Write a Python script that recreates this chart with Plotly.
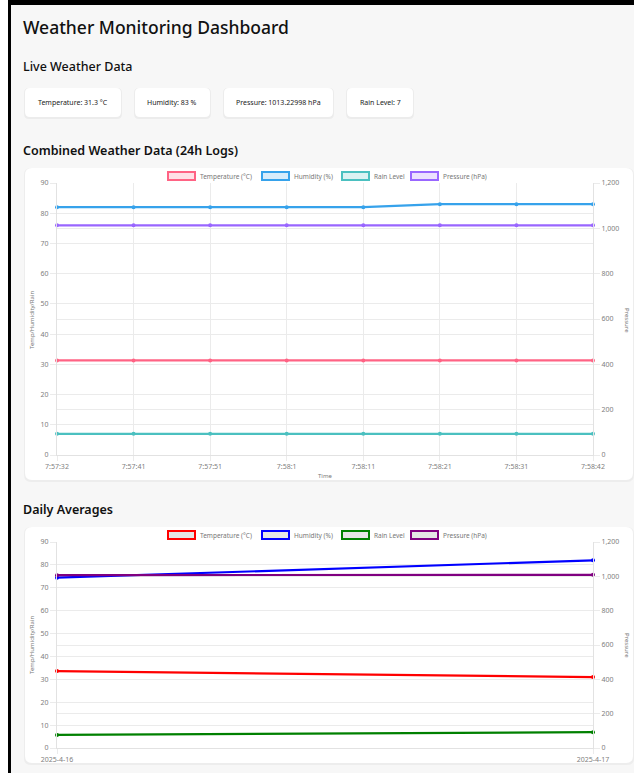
import plotly.graph_objects as go

# ---------------- data ----------------
log_times = ["7:57:32", "7:57:41", "7:57:51", "7:58:1", "7:58:11", "7:58:21", "7:58:31", "7:58:42"]
log_temperature = [31.3, 31.3, 31.3, 31.3, 31.3, 31.3, 31.3, 31.3]
log_humidity = [82, 82, 82, 82, 82, 83, 83, 83]
log_rain = [7, 7, 7, 7, 7, 7, 7, 7]
log_pressure = [1013.23, 1013.23, 1013.23, 1013.23, 1013.23, 1013.23, 1013.23, 1013.23]

avg_days = ["2025-4-16", "2025-4-17"]
avg_temperature = [33.6, 31.0]
avg_humidity = [74.4, 82.0]
avg_rain = [5.7, 6.9]
avg_pressure = [1007, 1009]

live_labels = ["Temperature: 31.3 °C", "Humidity: 83 %", "Pressure: 1013.22998 hPa", "Rain Level: 7"]
series_names = ["Temperature (°C)", "Humidity (%)", "Rain Level", "Pressure (hPa)"]

# ---------------- layout helpers ----------------
W, H = 634, 773
def fx(p):
    return p / W
def fy(p):
    return 1 - p / H

def rrect(x0, y0, x1, y1, r):
    rx, ry = r / W, r / H
    X0, X1 = fx(x0), fx(x1)
    Y0, Y1 = fy(y0), fy(y1)  # Y0 top (larger), Y1 bottom
    return (f"M{X0+rx},{Y0} L{X1-rx},{Y0} Q{X1},{Y0} {X1},{Y0-ry} "
            f"L{X1},{Y1+ry} Q{X1},{Y1} {X1-rx},{Y1} L{X0+rx},{Y1} "
            f"Q{X0},{Y1} {X0},{Y1+ry} L{X0},{Y0-ry} Q{X0},{Y0} {X0+rx},{Y0} Z")

FONT = "Noto Sans"
TICKC = "#808080"
GRID = "#ebebeb"

colors1 = ["rgb(255,99,132)", "rgb(54,162,235)", "rgb(75,192,192)", "rgb(153,102,255)"]
fills1 = ["rgba(255,99,132,0.2)", "rgba(54,162,235,0.2)", "rgba(75,192,192,0.2)", "rgba(153,102,255,0.2)"]
colors2 = ["red", "blue", "green", "purple"]
fills2 = ["rgba(0,0,0,0.1)"] * 4

fig = go.Figure()

# chart 1 traces
for vals, ax_y, c in [(log_temperature, "y", colors1[0]), (log_humidity, "y", colors1[1]),
                      (log_rain, "y", colors1[2]), (log_pressure, "y2", colors1[3])]:
    fig.add_trace(go.Scatter(x=log_times, y=vals, xaxis="x", yaxis=ax_y, mode="lines+markers",
                             line=dict(color=c, width=2.2),
                             marker=dict(color=c, size=4), cliponaxis=False, showlegend=False))
# chart 2 traces
for vals, ax_y, c in [(avg_temperature, "y3", colors2[0]), (avg_humidity, "y3", colors2[1]),
                      (avg_rain, "y3", colors2[2]), (avg_pressure, "y4", colors2[3])]:
    fig.add_trace(go.Scatter(x=avg_days, y=vals, xaxis="x2", yaxis=ax_y, mode="lines+markers",
                             line=dict(color=c, width=2.2),
                             marker=dict(color=c, size=4), cliponaxis=False, showlegend=False))

tickfont = dict(family=FONT, size=7, color=TICKC)
common_y = dict(showgrid=True, gridcolor=GRID, gridwidth=1, zeroline=False, showline=True,
                linecolor="#e2e2e2", ticks="outside", ticklen=6, tickcolor=GRID, tickfont=tickfont,
                automargin=False)
common_x = dict(type="category", showgrid=True, gridcolor=GRID, showline=True, linecolor="#e2e2e2",
                ticks="outside", ticklen=5, tickcolor=GRID, tickfont=tickfont, zeroline=False,
                automargin=False)

fig.update_layout(
    template="none",
    width=W, height=H, margin=dict(l=0, r=0, t=0, b=0, pad=0, autoexpand=False),
    paper_bgcolor="#f7f7f7", plot_bgcolor="rgba(0,0,0,0)", showlegend=False,
    xaxis=dict(domain=[fx(57), fx(593)], anchor="y", range=[0, 7], **common_x),
    yaxis=dict(domain=[fy(455), fy(183)], anchor="x", range=[0, 90], dtick=10, **common_y),
    yaxis2=dict(overlaying="y", side="right", anchor="x", range=[0, 1200], dtick=200,
                tickformat=",d", **common_y),
    xaxis2=dict(domain=[fx(57), fx(593)], anchor="y3", range=[0, 1], **common_x),
    yaxis3=dict(domain=[fy(748), fy(542)], anchor="x2", range=[0, 90], dtick=10, **common_y),
    yaxis4=dict(overlaying="y3", side="right", anchor="x2", range=[0, 1200], dtick=200,
                tickformat=",d", **common_y),
)

shapes = []
# left white strip and black frame
shapes.append(dict(type="rect", xref="paper", yref="paper", x0=0, x1=fx(8), y0=0, y1=1,
                   fillcolor="white", line_width=0, layer="below"))
shapes.append(dict(type="rect", xref="paper", yref="paper", x0=fx(8), x1=fx(11), y0=0, y1=1,
                   fillcolor="black", line_width=0, layer="below"))
shapes.append(dict(type="rect", xref="paper", yref="paper", x0=fx(8), x1=1, y0=fy(5), y1=1,
                   fillcolor="black", line_width=0, layer="below"))

# cards
card_boxes = [(25, 88, 121, 117), (135, 88, 210, 117), (224, 88, 333, 117), (347, 88, 413, 117)]
for (x0, y0, x1, y1) in card_boxes:
    shapes.append(dict(type="path", xref="paper", yref="paper", path=rrect(x0 - 1, y0, x1 + 1, y1 + 2, 5),
                       fillcolor="#ececec", line_width=0, layer="below"))
    shapes.append(dict(type="path", xref="paper", yref="paper", path=rrect(x0, y0, x1, y1, 5),
                       fillcolor="white", line_width=0, layer="below"))

# chart panels
for (x0, y0, x1, y1) in [(25, 168, 633, 480), (25, 527, 633, 763)]:
    shapes.append(dict(type="path", xref="paper", yref="paper", path=rrect(x0 - 1, y0, x1 + 1, y1 + 2, 7),
                       fillcolor="#ededed", line_width=0, layer="below"))
    shapes.append(dict(type="path", xref="paper", yref="paper", path=rrect(x0, y0, x1, y1, 7),
                       fillcolor="white", line_width=0, layer="below"))

annotations = []
def text(x, y, s, size, color="#111", xanchor="left", weight=None, angle=0, yanchor="middle"):
    f = dict(family=FONT, size=size, color=color)
    if weight:
        f["weight"] = weight
    annotations.append(dict(xref="paper", yref="paper", x=fx(x), y=fy(y), text=s, showarrow=False,
                            xanchor=xanchor, yanchor=yanchor, font=f, textangle=angle))

text(21, 27, "Weather Monitoring Dashboard", 17.5, "#111", weight=500)
text(21, 66, "Live Weather Data", 12.5, "#111", weight=500)
text(21, 151, "Combined Weather Data (24h Logs)", 12.5, "#111", weight=600)
text(21, 509, "Daily Averages", 12.5, "#111", weight=600)

for (x0, y0, x1, y1), s in zip(card_boxes, live_labels):
    text((x0 + x1) / 2, (y0 + y1) / 2, s, 7, "#222", xanchor="center")

# legends (chart.js style boxes)
box_x = [168, 262, 342, 411]
for ly, cols, fls in [(176, colors1, fills1), (535, colors2, fills2)]:
    for bx, c, fcol, name in zip(box_x, cols, fls, series_names):
        shapes.append(dict(type="rect", xref="paper", yref="paper", x0=fx(bx), x1=fx(bx + 27),
                           y0=fy(ly + 4), y1=fy(ly - 4), fillcolor=fcol, line=dict(color=c, width=2)))
        text(bx + 30, ly, name, 6.5, "#777")

# axis titles
text(32, 320, "Temp/Humidity/Rain", 6, "#777", xanchor="center", angle=-90)
text(627, 320, "Pressure", 6, "#777", xanchor="center", angle=90)
text(325, 476, "Time", 6, "#777", xanchor="center")
text(32, 645, "Temp/Humidity/Rain", 6, "#777", xanchor="center", angle=-90)
text(627, 645, "Pressure", 6, "#777", xanchor="center", angle=90)

fig.update_layout(shapes=shapes, annotations=annotations)
fig.write_html("out.html", config={"displayModeBar": False},
               post_script="document.body.style.margin='0px';document.body.style.overflow='hidden';")
